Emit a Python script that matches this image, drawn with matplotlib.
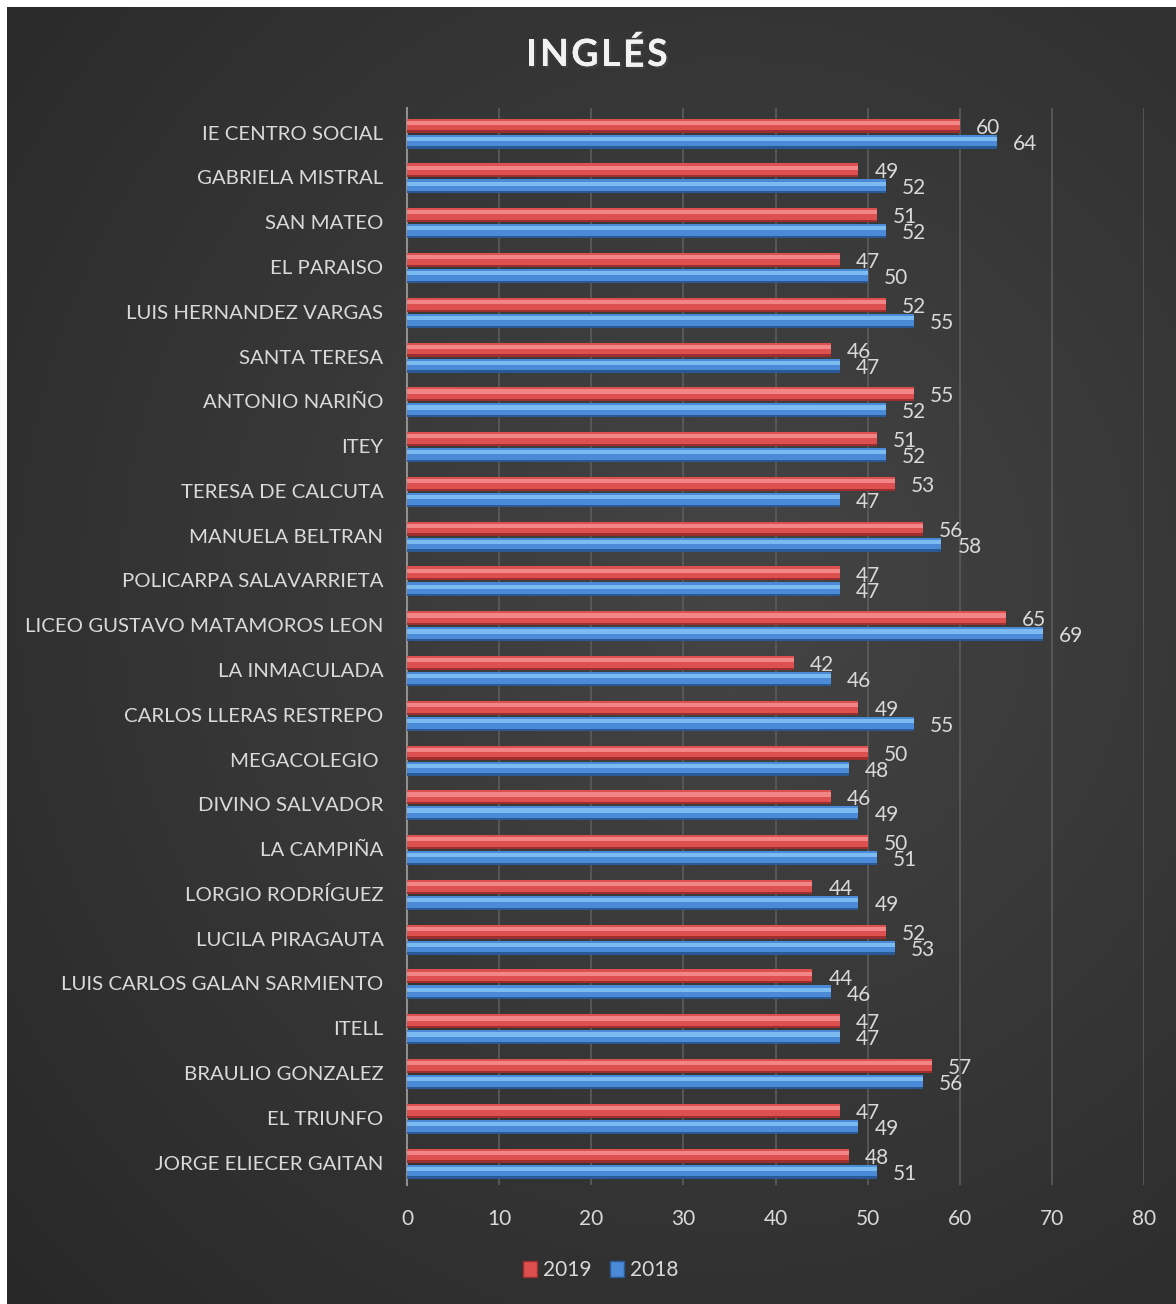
import numpy as np
import matplotlib
matplotlib.use("Agg")
import matplotlib.pyplot as plt
from matplotlib.patches import Patch
import matplotlib.patheffects as pe

categories = ["IE CENTRO SOCIAL", "GABRIELA MISTRAL", "SAN MATEO", "EL PARAISO",
              "LUIS HERNANDEZ VARGAS", "SANTA TERESA", "ANTONIO NARIÑO", "ITEY",
              "TERESA DE CALCUTA", "MANUELA BELTRAN", "POLICARPA SALAVARRIETA",
              "LICEO GUSTAVO MATAMOROS LEON", "LA INMACULADA", "CARLOS LLERAS RESTREPO",
              "MEGACOLEGIO ", "DIVINO SALVADOR", "LA CAMPIÑA", "LORGIO RODRÍGUEZ",
              "LUCILA PIRAGAUTA", "LUIS CARLOS GALAN SARMIENTO", "ITELL",
              "BRAULIO GONZALEZ", "EL TRIUNFO", "JORGE ELIECER GAITAN"]
values_2019 = [60, 49, 51, 47, 52, 46, 55, 51, 53, 56, 47, 65, 42, 49, 50, 46, 50, 44, 52, 44, 47, 57, 47, 48]
values_2018 = [64, 52, 52, 50, 55, 47, 52, 52, 47, 58, 47, 69, 46, 55, 48, 49, 51, 49, 53, 46, 47, 56, 49, 51]
series_names = ["2019", "2018"]
xticks = [0, 10, 20, 30, 40, 50, 60, 70, 80]
title = "INGLÉS"

W, H = 1176, 1304
FONT = ["Lato", "DejaVu Sans"]
TXT = "#d9d9d9"

fig = plt.figure(figsize=(W / 100, H / 100), dpi=100, facecolor="white")

# background gradient
bg = fig.add_axes([7 / W, 0, 1 - 7 / W, 1 - 7 / H])
bg.axis("off")
yy, xx = np.mgrid[0:1:400j, 0:1:400j]
r = np.sqrt(((xx - 0.62) / 0.9) ** 2 + ((yy - 0.45) / 0.85) ** 2)
val = 0.27 - 0.12 * np.clip(r, 0, 1.2)
img = np.dstack([val, val, val])
bg.imshow(np.clip(img, 0, 1), aspect="auto", extent=[0, 1, 0, 1], origin="upper")
bg.set_xlim(0, 1)
bg.set_ylim(0, 1)

ax = fig.add_axes([407 / W, 1 - 1185 / H, (1144 - 407) / W, (1185 - 108) / H])
ax.set_facecolor("none")
n = len(categories)
y = np.arange(n)
ax.set_xlim(0, 80)
ax.set_ylim(n - 0.5, -0.55)

unit = 44.78
h = 14 / unit
off_r = -7 / unit
off_b = 9 / unit

def bar3d(pos, vals, light, main, dark):
    ax.barh(pos, vals, height=h, color=dark, zorder=3)
    ax.barh(pos - h * 0.08, vals, height=h * 0.84, color=main, zorder=4)
    ax.barh(pos - h * 0.2, vals, height=h * 0.3, color=light, zorder=5)
    ax.barh(pos - h * 0.44, vals, height=h * 0.1, color=main, zorder=6)

bar3d(y + off_r, values_2019, "#f28585", "#de4f4f", "#9c2e2e")
bar3d(y + off_b, values_2018, "#7cbaf2", "#4a8ad6", "#2a5a96")

for i in range(n):
    ax.annotate(f"{values_2019[i]}", (values_2019[i], y[i] + off_r), xytext=(11.5, -1.5),
                textcoords="offset points", va="center", ha="left", color=TXT,
                fontsize=15, family=FONT, zorder=7)
    ax.annotate(f"{values_2018[i]}", (values_2018[i], y[i] + off_b), xytext=(11.5, -1.5),
                textcoords="offset points", va="center", ha="left", color=TXT,
                fontsize=15, family=FONT, zorder=7)

ax.set_xticks(xticks)
ax.set_xticklabels([str(t) for t in xticks], color=TXT, fontsize=15, family=FONT)
ax.set_yticks(y)
ax.set_yticklabels(categories, color=TXT, fontsize=14.7, family=FONT)
ax.tick_params(axis="x", length=0, pad=17)
ax.tick_params(axis="y", length=0, pad=17)
ax.xaxis.grid(True, color="#5c5c5c", lw=1.2, zorder=0)
ax.set_axisbelow(True)
for s in ["top", "right", "bottom"]:
    ax.spines[s].set_visible(False)
ax.spines["left"].set_color("#8f8f8f")
ax.spines["left"].set_linewidth(1.5)

# letter-spaced title: place each glyph individually
renderer = fig.canvas.get_renderer()
tprops = dict(color="#f2f2f2", fontsize=27, fontweight="bold", family=FONT, va="center", ha="left",
              path_effects=[pe.withSimplePatchShadow(offset=(1.5, -1.5), alpha=0.6), pe.Normal()])
letters = []
widths = []
for ch in title:
    t = fig.text(0, 1 - 55 / H, ch, **tprops)
    widths.append(t.get_window_extent(renderer).width)
    letters.append(t)
gap = 2.5
total = sum(widths) + gap * (len(title) - 1)
x0 = 597 - total / 2
for t, wdt in zip(letters, widths):
    t.set_x(x0 / W)
    x0 += wdt + gap

handles = [Patch(facecolor="#de4f4f", edgecolor="#9c2e2e", label=series_names[0]),
           Patch(facecolor="#4a8ad6", edgecolor="#2a5a96", label=series_names[1])]
leg = fig.legend(handles=handles, loc="center", bbox_to_anchor=(601 / W, 1 - 1270 / H),
                 ncol=2, frameon=False, handlelength=0.65, handleheight=0.8,
                 handletextpad=0.3, columnspacing=0.9,
                 prop={"family": FONT, "size": 15})
for t in leg.get_texts():
    t.set_color(TXT)

fig.savefig("out.png", dpi=100, facecolor=fig.get_facecolor())
